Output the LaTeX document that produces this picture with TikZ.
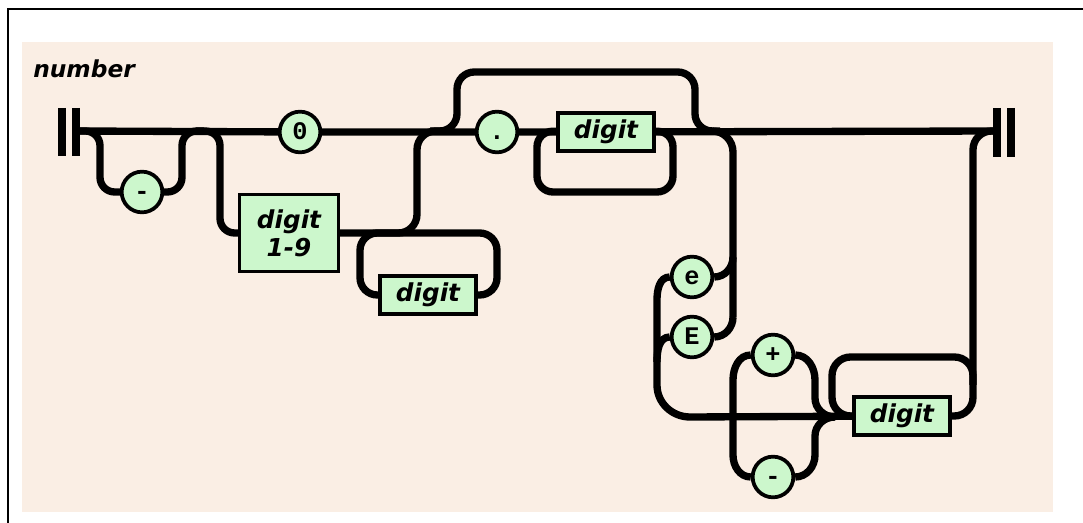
\documentclass[tikz,border=0pt]{standalone}
\usepackage{fontspec}
\newfontfamily\railsans{DejaVu Sans}
\newfontfamily\railmono{Liberation Mono}
\definecolor{railbg}{RGB}{250,238,228}
\definecolor{railgreen}{RGB}{204,247,204}

\begin{document}
\begin{tikzpicture}[x=0.75pt,y=-0.75pt,
  rail/.style={line width=5.5pt},
  railbar/.style={line width=6pt},
  term/.style={circle,draw,fill=railgreen,line width=2.8pt,minimum size=30.5pt,inner sep=0pt,text height=11pt,text depth=0pt,font=\railmono\bfseries\fontsize{19}{19}\selectfont},
  nonterm/.style={rectangle,draw,fill=railgreen,line width=2.6pt,minimum width=72pt,minimum height=28.5pt,inner sep=0pt,align=center,font=\railsans\bfseries\itshape\fontsize{18.5}{21}\selectfont}]
\useasboundingbox (0,0) rectangle (1083,523);

% Frame and background
\draw[line width=1.5pt] (7.5,523) -- (7.5,9) -- (1083,9);
\fill[railbg] (22,42) rectangle (1053,512);
\node[anchor=base west,inner sep=0pt,font=\railsans\bfseries\itshape\fontsize{17.5}{20}\selectfont] (title) at (33,78) {number};

% Terminals and non-terminals
\node[term] (minus) at (142,192) {-};
\node[term] (zero) at (300,132) {0};
\node[nonterm,minimum width=74pt,minimum height=58pt] (digitnz) at (289,233) {digit\\1-9};
\node[nonterm] (digitint) at (428,295) {digit};
\node[term] (dot) at (497,132) {.};
\node[nonterm] (digitfrac) at (606,132) {digit};
\node[term] (elow) at (692,277) {e};
\node[term] (eup) at (692,337) {E};
\node[term] (plus) at (773,355) {+};
\node[term] (minusexp) at (773,477) {-};
\node[nonterm] (digitexp) at (902,416) {digit};

\coordinate (in) at (78,131);
\coordinate (out) at (997,131);

% Start and end bars
\draw[railbar] (62,108) -- (62,156);
\draw[railbar] (76,108) -- (76,156);
\draw[railbar] (997,108) -- (997,157);
\draw[railbar] (1011,108) -- (1011,157);

% Main line
\draw[rail] (in) -- (zero) -- (dot) -- (digitfrac) -- (out);

% Sign
\draw[rail,rounded corners=11pt] (in) -- (100,131) -- (100,192) -- (minus);
\draw[rail,rounded corners=11pt] (minus) -- (182,192) -- (182,131) -- (204,131);

% Integer part
\draw[rail,rounded corners=11pt] (196,131) -- (220,131) -- (220,233) -- (digitnz);
\draw[rail,rounded corners=14pt] (digitnz) -- (417,233) -- (417,131) -- (445,131);
\draw[rail,rounded corners=13pt] (digitint) -- (497,295) -- (497,233) -- (360,233) -- (360,295) -- (digitint);

% Fraction
\draw[rail,rounded corners=13pt] (430,131) -- (457,131) -- (457,72) -- (695,72) -- (695,131) -- (720,131);
\draw[rail,rounded corners=12pt] (digitfrac) -- (673,131) -- (673,192) -- (537,192) -- (537,131) -- (digitfrac);

% Exponent
\draw[rail] (712,131) to[out=0,in=90] (733,152) -- (733,317);
\draw[rail] (elow.east) to[out=0,in=-90] (733,257);
\draw[rail] (eup.east) to[out=0,in=-90] (733,317);
\draw[rail] (elow.west) to[out=180,in=90] (657,300) -- (657,385) to[out=-90,in=180] (690,417) -- (digitexp);
\draw[rail] (eup.west) to[out=180,in=90] (657,362);

\draw[rail] (plus.west) to[out=180,in=90] (733,380) -- (733,455) to[out=-90,in=180] (minusexp.west);
\draw[rail] (plus.east) to[out=0,in=90] (815,380) -- (815,398) to[out=-90,in=180] (835,417);
\draw[rail] (minusexp.east) to[out=0,in=-90] (815,455) -- (815,436) to[out=90,in=180] (835,417);

\draw[rail,rounded corners=14pt] (digitexp) -- (973,416) -- (973,131) -- (out);
\draw[rail,rounded corners=14pt] (973,385) -- (973,357) -- (832,357) -- (832,416) -- (digitexp);

\end{tikzpicture}
\end{document}
